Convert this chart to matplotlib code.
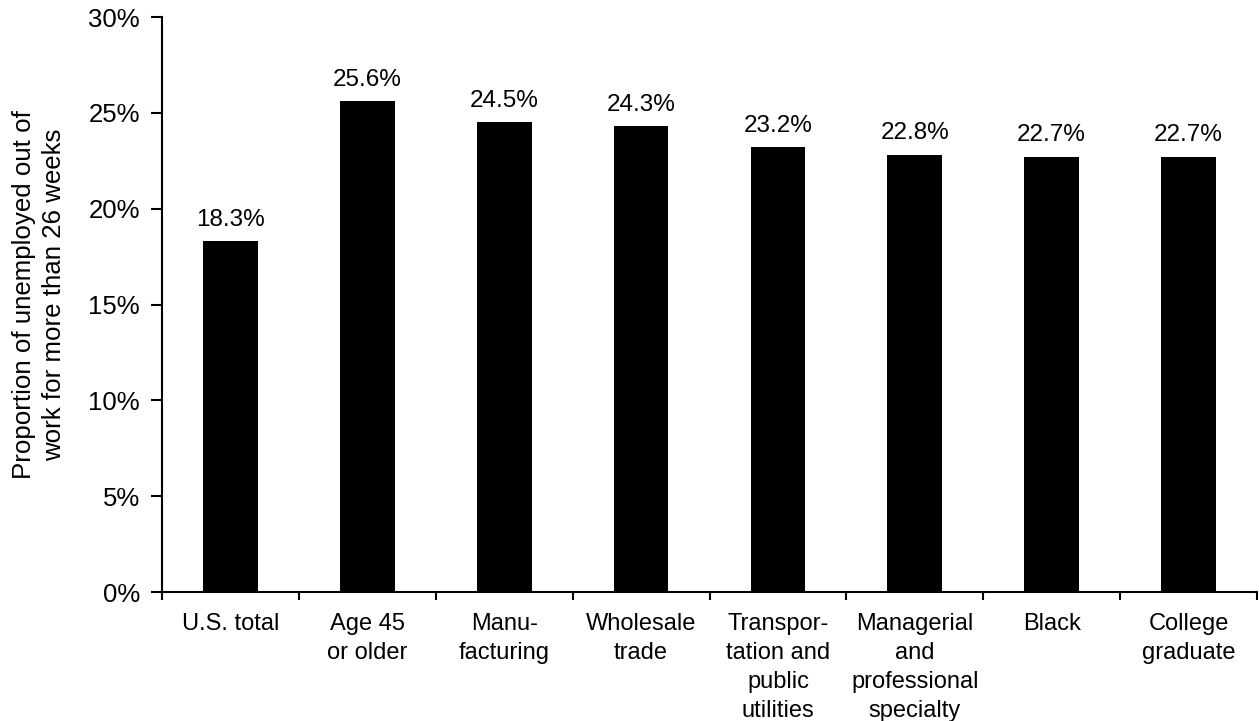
import numpy as np
import matplotlib.pyplot as plt
from matplotlib.ticker import FuncFormatter

plt.rcParams['font.family'] = ['Liberation Sans', 'DejaVu Sans']

categories = ["U.S. total", "Age 45\nor older", "Manu-\nfacturing", "Wholesale\ntrade",
              "Transpor-\ntation and\npublic\nutilities", "Managerial\nand\nprofessional\nspecialty",
              "Black", "College\ngraduate"]
values = [18.3, 25.6, 24.5, 24.3, 23.2, 22.8, 22.7, 22.7]

fig = plt.figure(figsize=(12.59, 7.21), dpi=100)
ax = fig.add_axes([0.1287, 0.1789, 0.8697, 0.7975])

x = np.arange(len(categories))
ax.bar(x, values, width=0.4, color='black')
for xi, v in zip(x, values):
    ax.text(xi, v + 0.55, f"{v:.1f}%", ha='center', va='bottom', fontsize=17.5)

ax.set_xlim(-0.5, len(categories) - 0.5)
ax.set_ylim(0, 30)
ax.set_yticks(np.arange(0, 31, 5))
ax.yaxis.set_major_formatter(FuncFormatter(lambda v, p: f"{v:.0f}%"))

# ticks at the category boundaries, labels centred under the bars
ax.set_xticks(np.arange(-0.5, len(categories), 1.0))
ax.set_xticklabels([])
ax.set_xticks(x, minor=True)
ax.set_xticklabels(categories, minor=True, fontsize=17, va='top', linespacing=1.42)
ax.tick_params(axis='x', which='minor', length=0, pad=15)
ax.tick_params(axis='x', which='major', length=6, width=1.5, direction='out')
ax.tick_params(axis='y', length=8, width=1.5, direction='out', labelsize=18.5, pad=8)

for s in ['top', 'right']:
    ax.spines[s].set_visible(False)
for s in ['left', 'bottom']:
    ax.spines[s].set_linewidth(1.5)

ax.set_ylabel("Proportion of unemployed out of\nwork for more than 26 weeks", fontsize=18.6,
              labelpad=16, linespacing=1.3, y=0.517)

fig.savefig('out.png', dpi=100)
